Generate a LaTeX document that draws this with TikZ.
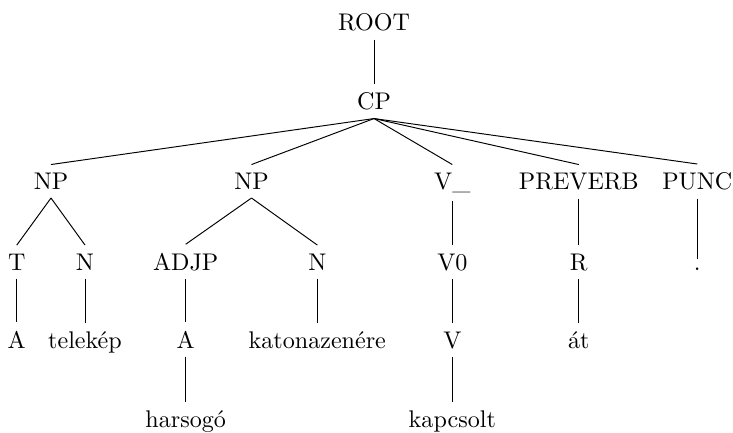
\documentclass[tikz,border=0pt]{standalone}
\begin{document}
\begin{tikzpicture}[x=0.415pt,y=-0.415pt,
    lbl/.style={anchor=base, inner sep=3.33pt},
    branch/.style={draw, line width=0.4pt}]
  \useasboundingbox (0,0) rectangle (733,432);

  % level 0 and 1
  \node[lbl] (root) at (374,30.7) {ROOT};
  \node[lbl] (cp)   at (374,109.5) {CP};

  % level 2
  \node[lbl] (np1)  at (51,189.5)    {NP};
  \node[lbl] (np2)  at (251.5,189.5) {NP};
  \node[lbl] (vbar) at (452.3,189.5) {V\_};
  \node[lbl] (prev) at (578.8,189.5) {PREVERB};
  \node[lbl] (punc) at (697.3,189.5) {PUNC};

  % level 3
  \node[lbl] (t)    at (16.7,270)  {T};
  \node[lbl] (n1)   at (85,270)    {N};
  \node[lbl] (adjp) at (185.7,270) {ADJP};
  \node[lbl] (n2)   at (317.3,270) {N};
  \node[lbl] (v0)   at (452.3,270) {V0};
  \node[lbl] (r)    at (578.8,270) {R};
  \node[lbl] (dot)  at (697.3,270) {.};

  % level 4
  \node[lbl] (a1)      at (16.7,348)  {A};
  \node[lbl] (telekep) at (85,348)    {telekép};
  \node[lbl] (a2)      at (185.7,348) {A};
  \node[lbl] (katona)  at (317.3,348) {katonazenére};
  \node[lbl] (v)       at (452.3,348) {V};
  \node[lbl] (at)      at (578.8,348) {át};

  % level 5
  \node[lbl] (harsogo)  at (185.7,427) {harsogó};
  \node[lbl] (kapcsolt) at (452.3,427) {kapcsolt};

  % branches
  \foreach \p/\c in {root/cp, cp/np1, cp/np2, cp/vbar, cp/prev, cp/punc,
                     np1/t, np1/n1, np2/adjp, np2/n2, vbar/v0, prev/r, punc/dot,
                     t/a1, n1/telekep, adjp/a2, n2/katona, v0/v, r/at,
                     a2/harsogo, v/kapcsolt}
    \draw[branch] (\p.south) -- (\c.north);
\end{tikzpicture}
\end{document}
